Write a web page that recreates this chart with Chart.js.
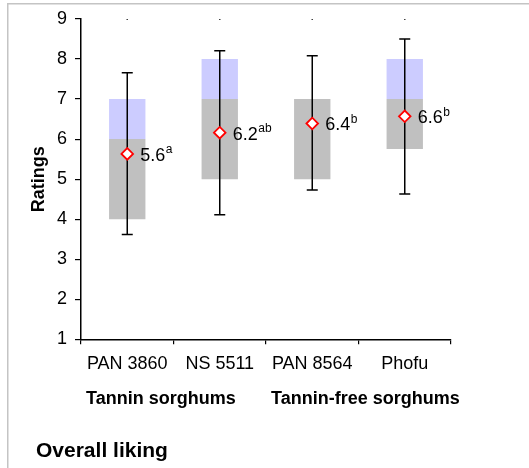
<!DOCTYPE html>
<html>
<head>
<meta charset="utf-8">
<script src="https://cdn.jsdelivr.net/npm/chart.js@4"></script>
<style>
  html, body { margin: 0; padding: 0; background: #fff; }
  #wrap { width: 529px; height: 468px; position: relative; }
</style>
</head>
<body>
<div id="wrap"><canvas id="c" width="529" height="468"></canvas></div>
<script>
// Sorghum porridge sensory panel: overall liking (9-point hedonic scale)
const categories = ['PAN 3860', 'NS 5511', 'PAN 8564', 'Phofu'];
const groups = ['Tannin sorghums', 'Tannin-free sorghums'];
const groupStarts = [0, 2];

const q1 = [4, 5, 5, 5.75];
const median = [6, 7, 7, 7];
const q3 = [7, 8, 7, 8];
const whiskerLow = [3.62, 4.11, 4.73, 4.63];
const whiskerHigh = [7.66, 8.21, 8.08, 8.5];
const means = [5.63, 6.16, 6.39, 6.57];
const letters = ['a', 'ab', 'b', 'b'];
const maxima = [9, 9, 9, 9];
const yTicks = [1, 2, 3, 4, 5, 6, 7, 8, 9];

const FONT = "'Liberation Sans', Arial, sans-serif";

// Outer frame (top and left edges only)
const framePlugin = {
  id: 'frame',
  beforeDraw(chart) {
    const ctx = chart.ctx;
    ctx.save();
    ctx.fillStyle = '#c4c4c4';
    ctx.fillRect(7, 3, chart.width - 7, 1.5);
    ctx.fillRect(7, 3, 1.5, chart.height - 3);
    ctx.restore();
  }
};

// Whiskers with caps, drawn on top of the boxes
const whiskerPlugin = {
  id: 'whiskers',
  afterDatasetDraw(chart, args) {
    if (args.index !== 2) return;
    const ctx = chart.ctx;
    const xs = chart.scales.x, ys = chart.scales.y;
    ctx.save();
    ctx.strokeStyle = '#000';
    ctx.lineWidth = 1.5;
    categories.forEach((c, i) => {
      const x = xs.getPixelForValue(i);
      const yl = ys.getPixelForValue(whiskerLow[i]);
      const yh = ys.getPixelForValue(whiskerHigh[i]);
      ctx.beginPath();
      ctx.moveTo(x, yl); ctx.lineTo(x, yh);
      ctx.moveTo(x - 5.5, yl); ctx.lineTo(x + 5.5, yl);
      ctx.moveTo(x - 5.5, yh); ctx.lineTo(x + 5.5, yh);
      ctx.stroke();
    });
    ctx.restore();
  }
};

// Mean labels with significance letters, group captions and the panel title
const textPlugin = {
  id: 'texts',
  afterDraw(chart) {
    const ctx = chart.ctx;
    const xs = chart.scales.x, ys = chart.scales.y;
    ctx.save();
    ctx.fillStyle = '#000';
    ctx.textBaseline = 'alphabetic';
    ctx.textAlign = 'left';
    means.forEach((m, i) => {
      const x = xs.getPixelForValue(i) + 13;
      const y = ys.getPixelForValue(m) + 7;
      const txt = m.toFixed(1);
      ctx.font = '18px ' + FONT;
      ctx.fillText(txt, x, y);
      const w = ctx.measureText(txt).width;
      ctx.font = '12px ' + FONT;
      ctx.fillText(letters[i], x + w + 0.5, y - 7.5);
    });

    ctx.font = 'bold 18px ' + FONT;
    const half = (xs.getPixelForValue(1) - xs.getPixelForValue(0)) / 2;
    groups.forEach((g, k) => {
      const start = xs.getPixelForValue(groupStarts[k]) - half;
      ctx.fillText(g, start + 5, 404);
    });

    ctx.font = 'bold 21px ' + FONT;
    ctx.fillText('Overall liking', 36, 457);

    ctx.translate(43.5, ys.getPixelForValue(5));
    ctx.rotate(-Math.PI / 2);
    ctx.textAlign = 'center';
    ctx.font = 'bold 18px ' + FONT;
    ctx.fillText('Ratings', 0, 0);
    ctx.restore();
  }
};

new Chart(document.getElementById('c'), {
  type: 'bar',
  data: {
    labels: categories,
    datasets: [
      {
        type: 'line',
        label: 'Mean',
        data: means,
        showLine: false,
        pointStyle: 'rectRot',
        pointRadius: 5.8,
        pointBorderWidth: 1.8,
        pointBorderColor: '#ff0000',
        pointBackgroundColor: '#ffffff',
        order: 0
      },
      {
        type: 'line',
        label: 'Maximum',
        data: maxima,
        showLine: false,
        pointStyle: 'rect',
        pointRadius: 1.1,
        pointBorderWidth: 0,
        pointBackgroundColor: '#000',
        order: 1
      },
      {
        label: 'Median to Q3',
        data: median.map((v, i) => [v, q3[i]]),
        backgroundColor: '#ccccff',
        borderWidth: 0,
        grouped: false,
        categoryPercentage: 1,
        barPercentage: 0.393,
        order: 2
      },
      {
        label: 'Q1 to median',
        data: q1.map((v, i) => [v, median[i]]),
        backgroundColor: '#c0c0c0',
        borderWidth: 0,
        grouped: false,
        categoryPercentage: 1,
        barPercentage: 0.393,
        order: 3
      }
    ]
  },
  options: {
    responsive: false,
    animation: false,
    events: [],
    layout: { padding: { left: 0, top: 19, right: 78, bottom: 0 } },
    plugins: { legend: { display: false }, tooltip: { enabled: false }, title: { display: false } },
    scales: {
      x: {
        offset: true,
        afterFit(s) { s.height = 128.7; },
        grid: { offset: true, drawOnChartArea: false, drawTicks: true, tickLength: 5, color: '#000', lineWidth: 1.2 },
        border: { display: true, color: '#000', width: 1.5 },
        ticks: { color: '#000', font: { family: FONT, size: 18 }, padding: 9, maxRotation: 0, autoSkip: false }
      },
      y: {
        min: 1,
        max: 9,
        afterFit(s) { s.width = 81; },
        afterBuildTicks(s) { s.ticks = yTicks.map(v => ({ value: v })); },
        grid: { drawOnChartArea: false, drawTicks: true, tickLength: 6, color: '#000', lineWidth: 1.2 },
        border: { display: true, color: '#000', width: 1.5 },
        ticks: { color: '#000', font: { family: FONT, size: 18 }, padding: 8 }
      }
    }
  },
  plugins: [framePlugin, whiskerPlugin, textPlugin]
});
</script>
</body>
</html>
